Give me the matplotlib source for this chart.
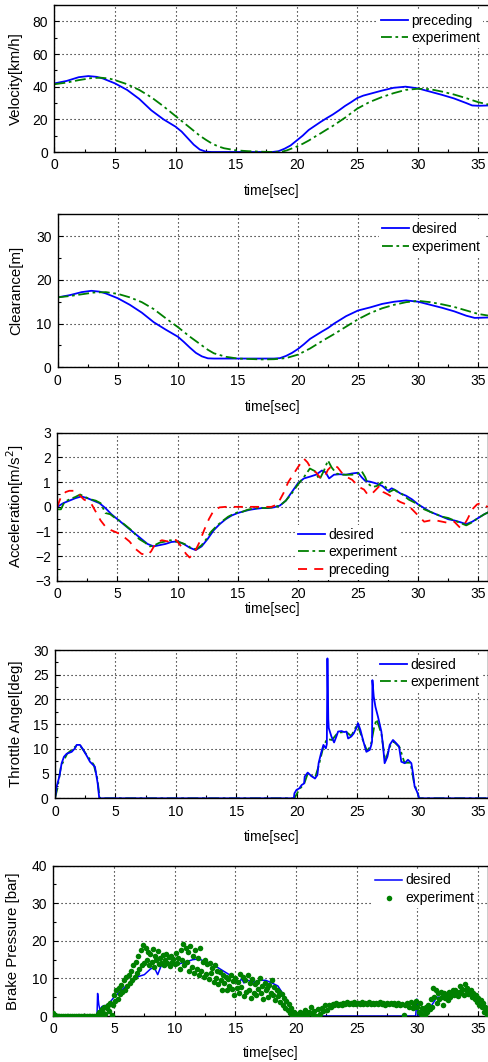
import matplotlib
matplotlib.use("Agg")
import matplotlib.pyplot as plt
from matplotlib.ticker import MultipleLocator

plt.rcParams['font.family'] = ['Liberation Sans', 'DejaVu Sans']
plt.rcParams['font.size'] = 10

# ---------------- data ----------------
vel_pre_t = [0, 1, 2, 2.8, 3.5, 4, 5, 6, 7, 8, 9, 10, 10.5, 11, 11.5, 12, 12.5, 13, 18, 18.5, 19, 19.5, 20, 20.5, 21, 21.5, 22, 22.5, 23, 23.5, 24, 24.5, 25, 25.5, 26, 27, 28, 29, 30, 31, 32, 33, 34, 34.5, 35, 35.9]
vel_pre_v = [42.0, 43.5, 45.8, 46.5, 46.0, 45, 42, 38, 32.5, 25.5, 20, 15.5, 12.5, 8.5, 4.5, 1.5, 0.2, 0, 0, 0.5, 2, 4, 7, 10, 13.5, 16, 18.5, 20.8, 23, 25.5, 28.2, 30.5, 33, 34.5, 35.5, 37.5, 39.3, 40, 39, 37, 35, 32.8, 30, 28.5, 28.3, 28.5]
vel_exp_t = [0, 1, 2, 3, 3.8, 4.5, 5, 6, 7, 8, 9, 10, 11, 12, 12.5, 13, 13.5, 14, 15, 16, 17, 18, 18.7, 19.2, 20, 20.5, 21, 21.5, 22, 22.5, 23, 24, 25, 26, 27, 28, 29, 30, 31, 32, 33, 34, 35, 35.9]
vel_exp_v = [41.5, 42.5, 44, 45.2, 45.5, 45, 44, 41.5, 38, 33.5, 28, 22, 16, 10, 7.5, 5.2, 3.5, 2.3, 1.0, 0.5, 0.2, 0, 0, 1.0, 3.3, 5, 7, 9.3, 11.5, 13.8, 16, 21, 26.5, 30.5, 33.5, 36, 38, 38.7, 38.5, 37, 35.2, 33, 30.5, 29]

clr_des_t = [0, 1, 2, 2.8, 3.5, 4, 5, 6, 7, 8, 9, 10, 10.5, 11, 11.5, 12, 12.5, 13, 18, 18.5, 19, 19.5, 20, 20.5, 21, 22, 22.5, 23, 24, 25, 26, 27, 28, 29, 30, 31, 32, 33, 34, 34.7, 35.9]
clr_des_v = [16.0, 16.5, 17.2, 17.5, 17.3, 16.9, 15.8, 14.3, 12.5, 10.3, 8.6, 7.0, 5.8, 4.5, 3.3, 2.5, 2.05, 2.0, 2.0, 2.1, 2.6, 3.3, 4.2, 5.3, 6.5, 8.2, 9.0, 10.0, 11.7, 13.0, 13.7, 14.5, 15.0, 15.3, 15.0, 14.3, 13.6, 12.8, 11.8, 11.3, 11.4]
clr_exp_t = [0, 1, 2, 3, 4, 5, 6, 7, 8, 9, 10, 11, 12, 12.5, 13, 14, 15, 16, 17, 18, 19, 20, 21, 22, 23, 24, 25, 26, 27, 28, 29, 30, 31, 32, 33, 34, 35, 35.9]
clr_exp_v = [16.0, 16.3, 16.7, 17.1, 17.2, 16.8, 16.0, 14.9, 13.3, 11.2, 9.2, 7.0, 5.0, 4.0, 3.2, 2.4, 2.0, 1.9, 1.8, 1.85, 2.1, 2.9, 4.3, 6.0, 7.6, 9.3, 11.0, 12.4, 13.5, 14.3, 14.9, 15.2, 14.9, 14.4, 13.8, 13.0, 12.2, 11.8]

acc_des_t = [0, 0.5, 1, 1.5, 2, 2.5, 3, 3.5, 4, 4.5, 5, 5.5, 6, 6.5, 7, 7.5, 8, 8.5, 9, 9.5, 10, 10.5, 11, 11.5, 12, 12.5, 13, 13.5, 14, 14.5, 15, 15.5, 16, 16.5, 17, 17.5, 18, 18.5, 19, 19.5, 20, 20.5, 21, 21.5, 22, 22.3, 22.6, 23, 23.5, 24, 24.5, 25, 25.3, 25.6, 26, 26.5, 27, 27.5, 27.8, 28.2, 28.5, 29, 29.5, 30, 30.5, 31, 31.5, 32, 32.5, 33, 33.5, 34, 34.5, 35, 35.5, 36]
acc_des_v = [0, 0.15, 0.25, 0.35, 0.42, 0.35, 0.25, 0.15, -0.05, -0.3, -0.5, -0.7, -0.9, -1.1, -1.3, -1.5, -1.6, -1.55, -1.5, -1.42, -1.4, -1.5, -1.65, -1.75, -1.6, -1.3, -0.95, -0.7, -0.5, -0.35, -0.25, -0.18, -0.12, -0.08, -0.05, -0.05, -0.02, 0.05, 0.25, 0.6, 0.95, 1.15, 1.22, 1.3, 1.47, 1.4, 1.15, 1.3, 1.32, 1.3, 1.35, 1.38, 1.2, 1.05, 1.02, 0.95, 0.85, 0.65, 0.75, 0.65, 0.55, 0.45, 0.3, 0.1, -0.05, -0.2, -0.3, -0.4, -0.5, -0.55, -0.62, -0.7, -0.6, -0.45, -0.3, -0.18]
acc_exp_t = [0, 0.3, 0.6, 1, 1.5, 1.9, 2.3, 2.8, 3.2, 3.6, 4, 4.4, 4.8, 5.3, 5.8, 6.3, 6.8, 7.3, 7.7, 8.1, 8.5, 9, 9.4, 9.8, 10.3, 10.8, 11.2, 11.6, 12, 12.4, 12.8, 13.3, 13.8, 14.2, 14.6, 15, 15.4, 15.8, 16.2, 16.6, 17, 17.5, 18, 18.5, 19, 19.5, 20, 20.5, 21, 21.4, 21.8, 22.2, 22.5, 22.8, 23.2, 23.6, 24, 24.5, 25, 25.3, 25.6, 25.8, 26.2, 26.6, 27, 27.3, 27.6, 28, 28.3, 28.7, 29.2, 29.6, 30, 30.5, 31, 31.5, 32, 32.5, 33, 33.5, 34, 34.4, 35, 35.5, 36]
acc_exp_v = [-0.1, -0.1, 0.2, 0.3, 0.4, 0.5, 0.4, 0.3, 0.25, 0.15, -0.25, -0.3, -0.45, -0.6, -0.8, -1.0, -1.3, -1.45, -1.6, -1.55, -1.45, -1.4, -1.35, -1.4, -1.45, -1.55, -1.7, -1.7, -1.55, -1.3, -1.0, -0.75, -0.55, -0.4, -0.3, -0.22, -0.2, -0.12, -0.08, -0.05, -0.05, -0.04, -0.02, 0.05, 0.25, 0.55, 0.9, 1.2, 1.55, 1.45, 1.1, 1.5, 1.88, 1.6, 1.35, 1.3, 1.3, 1.3, 1.35, 1.45, 1.2, 0.95, 0.8, 0.85, 1.0, 0.8, 0.6, 0.7, 0.6, 0.5, 0.3, 0.2, 0.1, -0.1, -0.2, -0.3, -0.4, -0.45, -0.55, -0.65, -0.75, -0.65, -0.45, -0.3, -0.18]
acc_pre_t = [0, 0.3, 0.7, 1.0, 1.5, 1.8, 2.2, 2.8, 3.2, 3.6, 4.0, 4.5, 5.0, 5.5, 6.0, 6.5, 7.0, 7.5, 7.8, 8.2, 8.7, 9.2, 9.5, 9.9, 10.3, 10.7, 11.0, 11.4, 11.8, 12.2, 12.6, 13.0, 13.5, 14, 17.8, 18.3, 18.8, 19.2, 19.6, 20.0, 20.5, 20.8, 21.1, 21.5, 21.9, 22.2, 22.5, 22.9, 23.3, 23.7, 24.1, 24.5, 24.8, 25.1, 25.5, 25.8, 26.1, 26.5, 26.8, 27.1, 27.5, 28.0, 28.5, 29.0, 29.5, 30.0, 30.5, 31.0, 31.5, 32.0, 32.5, 33.0, 33.5, 33.8, 34.1, 34.5, 34.9, 35.2, 35.5, 35.8]
acc_pre_v = [0, 0.4, 0.6, 0.65, 0.65, 0.5, 0.3, 0.15, -0.2, -0.55, -0.8, -0.95, -1.05, -1.2, -1.4, -1.7, -1.9, -1.95, -1.8, -1.45, -1.35, -1.4, -1.3, -1.35, -1.6, -1.9, -2.05, -1.85, -1.45, -0.95, -0.5, -0.15, -0.02, 0, 0, 0.1, 0.55, 1.0, 1.3, 1.6, 1.95, 1.8, 1.55, 1.4, 1.15, 1.2, 1.5, 1.7, 1.6, 1.35, 1.2, 1.1, 0.95, 0.8, 0.7, 0.5, 0.5, 0.7, 0.85, 0.6, 0.5, 0.35, 0.2, 0.1, -0.1, -0.35, -0.6, -0.55, -0.55, -0.6, -0.65, -0.6, -0.85, -0.75, -0.5, -0.1, 0.1, 0.15, 0.05, 0.0]

thr_des_t = [0, 0.14, 0.36, 0.55, 0.74, 0.96, 1.38, 1.65, 1.79, 2.07, 2.34, 2.67, 2.89, 3.17, 3.3, 3.39, 3.53, 3.66, 19.75, 19.8, 19.97, 20.2, 20.4, 20.6, 20.65, 20.9, 21.2, 21.5, 21.7, 21.8, 22.0, 22.2, 22.4, 22.48, 22.53, 22.6, 22.64, 22.86, 23.08, 23.27, 23.41, 23.7, 23.9, 24.1, 24.24, 24.5, 24.7, 24.92, 25.06, 25.26, 25.47, 25.75, 26.03, 26.16, 26.22, 26.25, 26.36, 26.5, 26.71, 26.99, 27.13, 27.26, 27.49, 27.68, 27.95, 28.23, 28.45, 28.64, 28.92, 29.19, 29.47, 29.6, 29.74, 30.0, 30.1, 35.9]
thr_des_v = [0, 2.4, 4.4, 7.1, 8.4, 9.0, 9.4, 10.1, 10.8, 10.8, 9.8, 8.4, 7.4, 6.7, 6.4, 5.1, 3.0, 0, 0, 1.0, 1.7, 2.0, 2.7, 3.0, 4.4, 5.2, 4.5, 4.0, 4.7, 7.1, 9.1, 10.8, 10.1, 11.0, 28.3, 16.0, 14.2, 12.5, 11.3, 12.5, 13.5, 13.6, 13.4, 13.5, 12.1, 12.5, 13.1, 14.2, 15.2, 13.8, 11.8, 9.4, 9.8, 10.8, 11.5, 23.9, 20.6, 18.5, 16.5, 13.5, 10.5, 7.1, 8.4, 10.8, 11.8, 11.1, 10.5, 7.4, 7.1, 7.8, 7.1, 5.1, 2.4, 1.0, 0, 0]
thr_exp_t = [0, 0.2, 0.5, 1.0, 1.7, 2.1, 2.7, 3.2, 3.5, 3.7, 19.8, 20.2, 20.6, 20.9, 21.5, 21.8, 22.2, 22.5, 22.9, 23.4, 24.1, 24.5, 25.0, 25.5, 25.8, 26.1, 26.4, 26.6, 27.0, 27.3, 27.7, 28.0, 28.5, 28.9, 29.4, 29.7, 30.0, 30.1, 35.9]
thr_exp_v = [0, 2.0, 6.5, 9.0, 10.5, 10.6, 8.5, 6.8, 4.0, 0, 0, 1.8, 2.9, 5.0, 4.1, 6.5, 10.5, 12.0, 11.8, 13.3, 13.4, 12.6, 15.0, 11.5, 9.6, 10.5, 14.5, 16.0, 13.0, 7.5, 10.5, 11.5, 10.3, 7.2, 7.2, 3.0, 1.0, 0, 0]

brk_des_t = [0, 3.6, 3.65, 3.75, 3.85, 4.0, 4.5, 5.0, 5.5, 6.0, 6.5, 7.0, 7.5, 8.0, 8.3, 8.6, 8.9, 9.2, 9.5, 10.0, 10.5, 11.0, 11.5, 12.0, 12.5, 13.0, 13.5, 14.0, 14.5, 15.0, 15.3, 15.5, 15.7, 16.0, 16.5, 17.0, 17.5, 18.0, 18.5, 19.0, 19.3, 19.6, 19.8, 20.0, 29.85, 29.95, 30.05, 30.5, 31.0, 31.3, 31.6, 32.0, 32.5, 33.0, 33.5, 34.0, 34.5, 35.0, 35.3, 35.6, 35.9]
brk_des_v = [0, 0, 6.0, 3.0, 1.5, 2.5, 3.0, 5.0, 6.5, 8.0, 9.0, 10.5, 11.0, 12.5, 13.0, 11.0, 13.5, 13.0, 14.0, 13.5, 14.0, 14.5, 15.0, 15.2, 14.5, 14.0, 13.0, 12.0, 11.0, 10.0, 8.5, 10.0, 8.8, 9.5, 9.0, 9.5, 9.5, 8.8, 8.0, 5.5, 3.5, 1.5, 0.2, 0, 0, 4.5, 0, 0, 2.0, 3.5, 5.0, 5.0, 5.5, 6.0, 6.5, 7.0, 6.5, 5.0, 4.0, 2.5, 0]

brk_exp_t = [0.0, 0.1, 0.2, 0.35, 0.5, 0.65, 0.8, 0.95, 1.1, 1.25, 1.4, 1.55, 1.7, 1.85, 2.0, 2.15, 2.3, 2.45, 2.6, 2.75, 2.9, 3.05, 3.2, 3.35, 3.5,
             3.6, 3.7, 3.8, 3.9, 4.0, 4.1, 4.2, 4.3, 4.4, 4.5, 4.6, 4.7, 4.8, 4.9, 5.0, 5.1, 5.2, 5.3, 5.4, 5.5, 5.6, 5.7, 5.8, 5.9,
             6.0, 6.1, 6.2, 6.3, 6.4, 6.5, 6.6, 6.7, 6.8, 6.9, 7.0, 7.1, 7.2, 7.3, 7.4, 7.5, 7.6, 7.7, 7.8, 7.9,
             8.0, 8.1, 8.2, 8.3, 8.4, 8.5, 8.6, 8.7, 8.8, 8.9, 9.0, 9.1, 9.2, 9.3, 9.4, 9.5, 9.6, 9.7, 9.8, 9.9,
             10.0, 10.1, 10.2, 10.3, 10.4, 10.5, 10.6, 10.7, 10.8, 10.9, 11.0, 11.1, 11.2, 11.3, 11.4, 11.5, 11.6, 11.7, 11.8, 11.9,
             12.0, 12.1, 12.2, 12.3, 12.4, 12.5, 12.6, 12.7, 12.8, 12.9, 13.0, 13.1, 13.2, 13.3, 13.4, 13.5, 13.6, 13.7, 13.8, 13.9,
             14.0, 14.1, 14.2, 14.3, 14.4, 14.5, 14.6, 14.7, 14.8, 14.9, 15.0, 15.1, 15.2, 15.3, 15.4, 15.5, 15.6, 15.7, 15.8, 15.9,
             16.0, 16.1, 16.2, 16.3, 16.4, 16.5, 16.6, 16.7, 16.8, 16.9, 17.0, 17.1, 17.2, 17.3, 17.4, 17.5, 17.6, 17.7, 17.8, 17.9,
             18.0, 18.1, 18.2, 18.3, 18.4, 18.5, 18.6, 18.7, 18.8, 18.9, 19.0, 19.1, 19.2, 19.3, 19.4, 19.5, 19.6, 19.7, 19.8, 19.9, 20.0,
             20.15, 20.3, 20.45, 20.6, 20.75, 20.9, 21.05, 21.2, 21.35, 21.5, 21.65, 21.8, 21.95, 22.1, 22.25, 22.4, 22.55, 22.7, 22.85,
             23.0, 23.15, 23.3, 23.45, 23.6, 23.75, 23.9, 24.05, 24.2, 24.35, 24.5, 24.65, 24.8, 24.95, 25.1, 25.25, 25.4, 25.55, 25.7, 25.85,
             26.0, 26.15, 26.3, 26.45, 26.6, 26.75, 26.9, 27.05, 27.2, 27.35, 27.5, 27.65, 27.8, 27.95, 28.1, 28.25, 28.4, 28.55, 28.7, 28.85,
             29.0, 29.15, 29.3, 29.45, 29.6, 29.75, 29.9,
             30.0, 30.1, 30.2, 30.3, 30.4, 30.5, 30.6, 30.7, 30.8, 30.9, 31.0, 31.1, 31.2, 31.3, 31.4, 31.5, 31.6, 31.7, 31.8, 31.9,
             32.0, 32.1, 32.2, 32.3, 32.4, 32.5, 32.6, 32.7, 32.8, 32.9, 33.0, 33.1, 33.2, 33.3, 33.4, 33.5, 33.6, 33.7, 33.8, 33.9,
             34.0, 34.1, 34.2, 34.3, 34.4, 34.5, 34.6, 34.7, 34.8, 34.9, 35.0, 35.1, 35.2, 35.3, 35.4, 35.5, 35.6, 35.7, 35.8, 35.9]
brk_exp_v = [0.8, 0.3, 0, 0, 0, 0, 0, 0, 0, 0, 0, 0, 0, 0, 0, 0, 0, 0, 0, 0, 0, 0, 0, 0, 0,
             0.0, 0.5, 1.0, 0.2, 1.8, 0.8, 2.5, 0.4, 2.0, 3.0, 1.2, 3.5, 0.3, 2.8, 5.5, 4.0, 6.8, 4.5, 7.5, 5.8, 8.2, 6.5, 9.5, 7.0,
             10.5, 8.0, 11.0, 8.8, 12.0, 9.5, 13.5, 10.5, 14.5, 11.5, 16.0, 12.5, 17.5, 13.5, 18.8, 14.0, 18.0, 15.0, 17.0, 13.5,
             16.5, 14.5, 17.8, 13.0, 16.0, 14.8, 17.2, 13.8, 15.5, 14.2, 16.2, 13.5, 15.0, 16.5, 14.0, 15.8, 13.2, 16.0, 14.5, 15.2,
             13.8, 16.8, 14.2, 15.5, 12.5, 17.5, 14.8, 19.2, 13.5, 18.0, 14.5, 17.0, 12.0, 18.5, 13.0, 16.0, 11.5, 17.5, 12.5, 15.5,
             11.0, 18.2, 12.0, 14.5, 10.5, 15.0, 11.2, 13.8, 9.8, 14.0, 11.5, 12.8, 9.0, 13.5, 10.2, 12.0, 8.5, 11.8, 9.5, 7.0,
             11.0, 8.8, 10.5, 6.8, 9.8, 8.0, 10.8, 7.2, 9.2, 5.5, 10.0, 7.5, 9.0, 6.0, 11.2, 7.8, 10.5, 5.2, 9.5, 6.5,
             11.0, 7.0, 8.8, 4.8, 9.8, 6.2, 8.5, 5.5, 9.0, 7.2, 10.2, 6.0, 8.0, 4.5, 8.8, 6.8, 7.5, 5.0, 8.2, 6.2,
             9.5, 5.5, 7.8, 4.2, 7.0, 5.2, 6.5, 3.8, 5.8, 3.0, 4.8, 2.2, 4.0, 1.5, 3.2, 0.8, 2.0, 0.2, 1.0, 0.0, 0.5,
             0.2, 1.0, 0.0, 0.8, 1.5, 0.3, 1.0, 2.5, 0.5, 1.2, 0.0, 1.8, 0.6, 2.2, 1.2, 2.8, 1.5, 3.0, 2.5,
             3.2, 2.8, 3.5, 3.0, 3.3, 2.9, 3.5, 3.2, 3.6, 3.1, 3.4, 3.3, 3.6, 3.2, 3.5, 3.3, 3.6, 3.1, 3.4, 3.3,
             3.6, 3.2, 3.5, 3.1, 3.4, 3.3, 3.6, 3.2, 3.5, 3.0, 3.4, 3.3, 3.5, 3.1, 3.4, 2.8, 3.5, 3.0, 3.3, 0.2,
             2.8, 3.4, 2.5, 3.6, 2.2, 3.0, 4.0,
             2.5, 1.0, 3.5, 0.5, 2.0, 1.5, 0.2, 2.5, 1.0, 3.0, 1.8, 4.5, 2.5, 7.5, 5.0, 7.0, 3.5, 6.0, 4.5, 6.5,
             5.0, 3.0, 6.0, 4.8, 5.5, 4.2, 6.5, 5.0, 5.8, 6.8, 5.5, 7.0, 6.0, 5.2, 6.5, 8.0, 6.2, 7.2, 5.5, 8.5,
             6.8, 7.5, 5.8, 6.5, 7.0, 5.0, 6.0, 4.5, 5.5, 3.8, 4.8, 3.0, 4.2, 2.5, 3.5, 1.0, 2.5, 0.2, 1.5, 0.5]

time_ticks = [0, 5, 10, 15, 20, 25, 30, 35]

BLUE = '#0000ff'
GREEN = '#008000'
RED = '#ff0000'
DASHDOT = (0, (6, 2, 1.5, 2))
FS = 10
YFS = 10.8

W, H = 489.0, 1062.0
fig = plt.figure(figsize=(W / 100, H / 100), dpi=100)

def make_ax(left, top, bottom, right=488.5):
    return fig.add_axes([left / W, (H - bottom) / H, (right - left) / W, (bottom - top) / H])

panels = [
    make_ax(54.5, 5, 152),
    make_ax(57.7, 214.3, 367.3),
    make_ax(57.3, 432.7, 581),
    make_ax(55, 650, 798.3),
    make_ax(53.3, 865.7, 1016),
]

def style(ax, ylim, ymaj, ymin, ylabel, ylx, xly):
    ax.set_xlim(0, 35.85)
    ax.set_ylim(*ylim)
    ax.set_xticks(time_ticks)
    ax.xaxis.set_minor_locator(MultipleLocator(2.5))
    ax.yaxis.set_major_locator(MultipleLocator(ymaj))
    ax.yaxis.set_minor_locator(MultipleLocator(ymin))
    ax.tick_params(which='both', direction='in', top=False, right=False, labelsize=FS, pad=4.5, width=0.8)
    ax.tick_params(which='major', length=3.5)
    ax.tick_params(which='minor', length=2.5)
    ax.grid(True, which='major', color='black', linestyle=(0, (1, 2.6)), linewidth=0.8)
    for s in ax.spines.values():
        s.set_linewidth(1.0)
    ax.set_ylabel(ylabel, fontsize=YFS)
    ax.yaxis.set_label_coords(ylx, 0.5)
    ax.set_xlabel('time[sec]', fontsize=FS, va='center')
    ax.xaxis.set_label_coords(0.5, xly)

def legend(ax, anchor, **kw):
    return ax.legend(loc='upper left', bbox_to_anchor=anchor, fontsize=FS, frameon=True, facecolor='white',
                     edgecolor='none', framealpha=1, handlelength=1.95, handletextpad=0.22, borderaxespad=0,
                     labelspacing=0.25, borderpad=0.2, fancybox=False, **kw)

# Panel 1: velocity
ax = panels[0]
ax.plot(vel_pre_t, vel_pre_v, color=BLUE, lw=1.3, label='preceding')
ax.plot(vel_exp_t, vel_exp_v, color=GREEN, lw=1.3, ls=DASHDOT, label='experiment')
style(ax, (0, 90), 20, 10, 'Velocity[km/h]', -0.073, -0.265)
legend(ax, (0.746, 0.961))

# Panel 2: clearance
ax = panels[1]
ax.plot(clr_des_t, clr_des_v, color=BLUE, lw=1.3, label='desired')
ax.plot(clr_exp_t, clr_exp_v, color=GREEN, lw=1.3, ls=DASHDOT, label='experiment')
style(ax, (0, 35), 10, 5, 'Clearance[m]', -0.080, -0.2575)
legend(ax, (0.7456, 0.967))

# Panel 3: acceleration
ax = panels[2]
ax.plot(acc_des_t, acc_des_v, color=BLUE, lw=1.3, label='desired')
ax.plot(acc_exp_t, acc_exp_v, color=GREEN, lw=1.3, ls=DASHDOT, label='experiment')
ax.plot(acc_pre_t, acc_pre_v, color=RED, lw=1.3, ls=(0, (5, 4)), label='preceding')
style(ax, (-3, 3), 1, 0.5, 'Acceleration[m/s$^2$]', -0.073, -0.189)
legend(ax, (0.5517, 0.3776))

# Panel 4: throttle
ax = panels[3]
ax.plot(thr_exp_t, thr_exp_v, color=GREEN, lw=1.3, ls=DASHDOT, label='experiment')
ax.plot(thr_des_t, thr_des_v, color=BLUE, lw=1.3, label='desired')
style(ax, (0, 30), 5, 2.5, 'Throttle Angel[deg]', -0.0746, -0.259)
h, l = ax.get_legend_handles_labels()
legend(ax, (0.743, 0.966), handles=[h[1], h[0]], labels=[l[1], l[0]])

# Panel 5: brake
ax = panels[4]
ax.plot(brk_des_t, brk_des_v, color=BLUE, lw=1.1, label='desired', zorder=2)
ax.scatter(brk_exp_t, brk_exp_v, s=16, color=GREEN, linewidths=0, label='experiment', zorder=3)
style(ax, (0, 40), 10, 5, 'Brake Pressure [bar]', -0.0766, -0.245)
legend(ax, (0.733, 0.967), scatterpoints=1)

fig.savefig('out.png', dpi=100)
